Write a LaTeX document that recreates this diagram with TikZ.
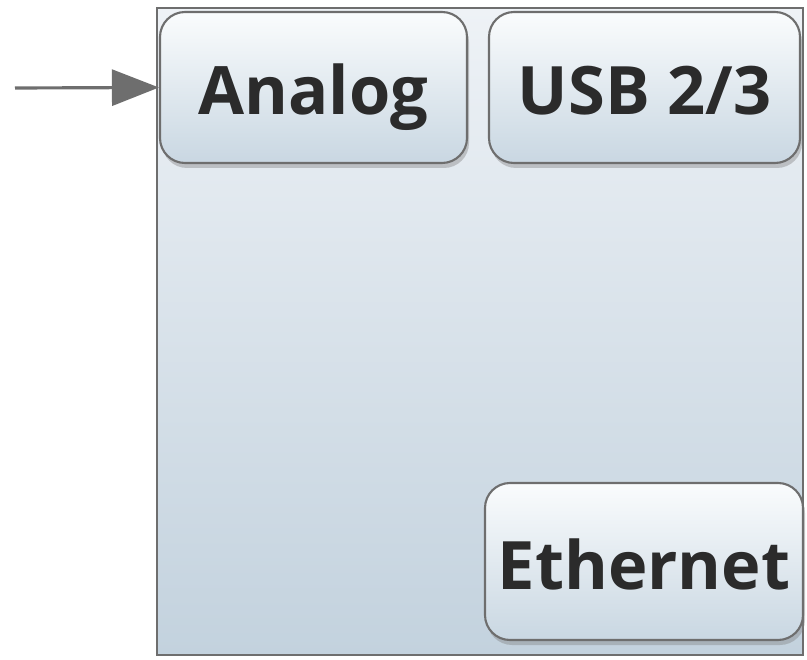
\documentclass[tikz,border=0pt]{standalone}
\usepackage{fontspec}
\setmainfont{Open Sans}
\usepackage{tikz}
\usetikzlibrary{arrows.meta}
\usetikzlibrary{shadows}

\definecolor{boxline}{HTML}{6E6E6E}
\definecolor{paneltop}{HTML}{EEF2F6}
\definecolor{panelbot}{HTML}{C3D2DE}
\definecolor{btntop}{HTML}{FAFCFD}
\definecolor{btnbot}{HTML}{C9D7E2}
\definecolor{txt}{HTML}{2B2B2B}

\begin{document}
\begin{tikzpicture}
	\useasboundingbox (0,0) rectangle (16.14,-13.2);
	% panel
	\draw[boxline, line width=1.2pt, top color=paneltop, bottom color=panelbot]
		(3.14,-0.16) rectangle (16.06,-13.1);

	\begin{scope}[every node/.style={draw=boxline, line width=1.2pt, rounded corners=0.5cm,
	              top color=btntop, bottom color=btnbot,
	              drop shadow={shadow xshift=0.04cm, shadow yshift=-0.1cm, opacity=0.4},
	              text=txt, font=\fontsize{38}{38}\selectfont\bfseries, inner sep=0pt,
	              text height=1.3cm, text depth=0.2cm}]
		\node[minimum width=6.14cm, minimum height=3.02cm] (analog) at (6.27,-1.75) {Analog};
		\node[minimum width=6.22cm, minimum height=3.02cm] (usb) at (12.89,-1.75) {USB 2/3};
		\node[minimum width=6.36cm, minimum height=3.14cm] (eth) at (12.88,-11.23) {Ethernet};
	\end{scope}

	\coordinate (src) at (0.3,-1.76);
	\begin{scope}[>={Triangle[length=0.94cm, width=0.72cm]}]
		\draw[->, boxline, line width=1.8pt] (src) -- (analog.west);
	\end{scope}
\end{tikzpicture}
\end{document}
